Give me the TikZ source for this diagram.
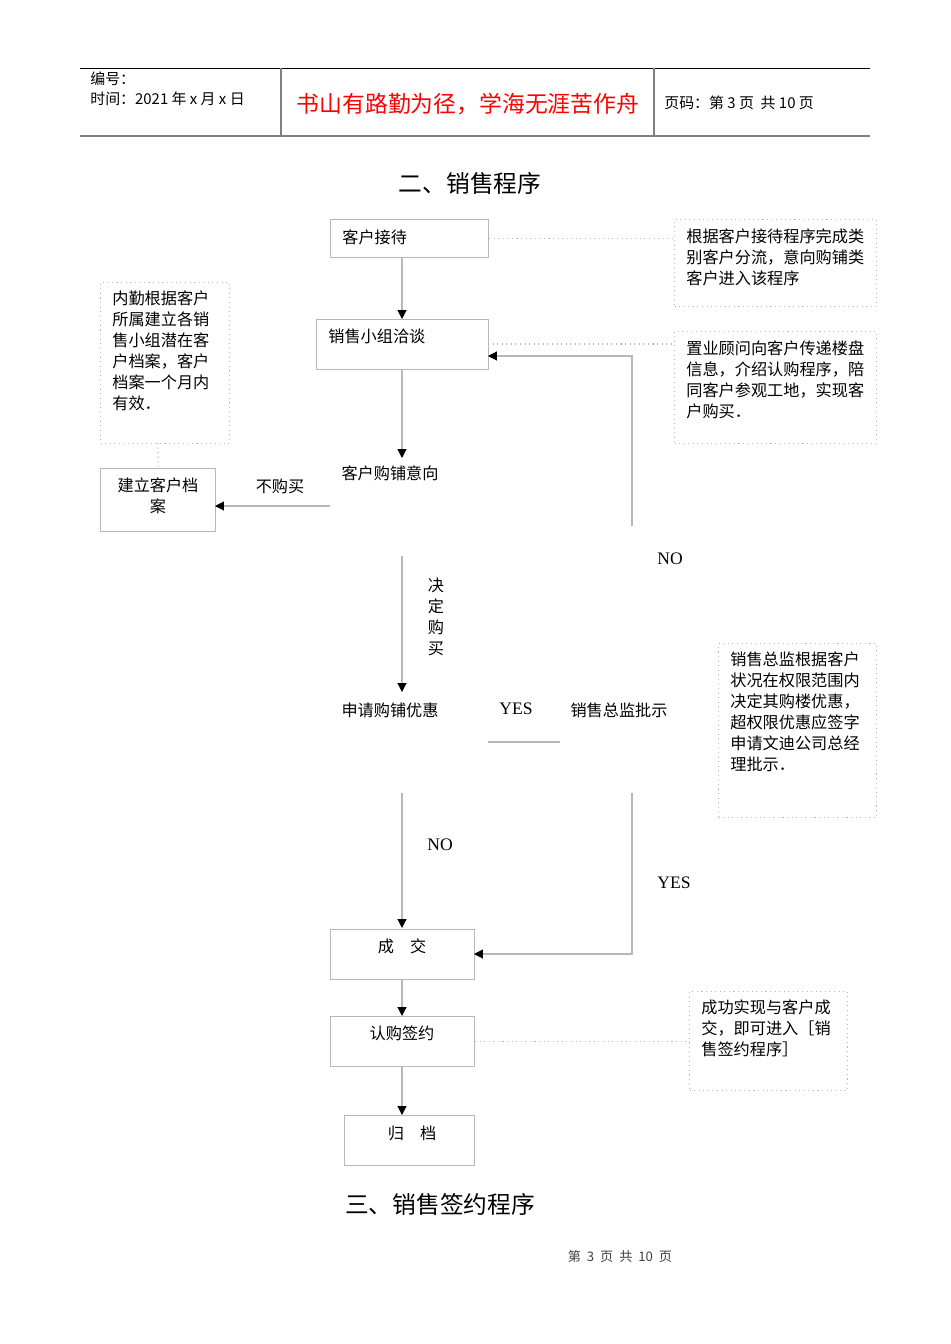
\documentclass[tikz,border=0pt]{standalone}
\usepackage{fontspec}
\setmainfont{Liberation Serif}
\newfontfamily\cjk{Noto Sans CJK SC}
\usetikzlibrary{arrows.meta}
\definecolor{linegrey}{gray}{0.72}
\tikzset{
  stepbox/.style={draw=linegrey, line width=0.6pt, anchor=north west, inner sep=0pt},
  note/.style={draw=linegrey, dotted, line width=0.6pt, anchor=north west, inner sep=0pt},
  txt/.style={font=\cjk\fontsize{9.2pt}{12pt}\selectfont, inner sep=0pt, align=left},
  aro/.style={draw=linegrey, line width=0.6pt, -{Triangle[black,length=5pt,width=5pt]}},
  lin/.style={draw=linegrey, line width=0.6pt},
  dot/.style={draw=linegrey, dotted, line width=0.6pt}
}
\begin{document}
\begin{tikzpicture}[x=0.02cm, y=-0.02cm]
  \useasboundingbox (0,0) rectangle (950,1344);

  % header
  \draw[line width=0.5pt] (80,68) -- (870,68);
  \draw[gray, line width=1.4pt] (80,136) -- (870,136);
  \draw[gray, line width=0.8pt] (281,68) -- (281,136) (654,68) -- (654,136);
  \node[txt, anchor=north west, font=\cjk\fontsize{8.5pt}{11pt}\selectfont] (hdl) at (90,72) {编号：\\时间：2021 年 x 月 x 日};
  \node[txt, red, font=\cjk\fontsize{13pt}{16pt}\selectfont] (hdm) at (468,104) {书山有路勤为径，学海无涯苦作舟};
  \node[txt, anchor=west, font=\cjk\fontsize{8.5pt}{11pt}\selectfont] (hdr) at (664,103) {页码：第 3 页\ \ 共 10 页};

  \node[txt, font=\cjk\fontsize{13.5pt}{16pt}\selectfont] (title) at (470,183) {二、销售程序};

  % boxes
  \node[stepbox, minimum width=158*0.02cm, minimum height=38*0.02cm] (recv) at (330,219) {};
  \node[txt, anchor=west] at (342,237) {客户接待};
  \node[stepbox, minimum width=172*0.02cm, minimum height=50*0.02cm] (talk) at (316,319) {};
  \node[txt, anchor=west] at (328,336) {销售小组洽谈};
  \node[txt] (intent) at (390,473) {客户购铺意向};
  \node[stepbox, minimum width=115*0.02cm, minimum height=63*0.02cm] (file) at (100,468) {};
  \node[txt, align=center] at (158,496) {建立客户档\\案};
  \node[txt] (apply) at (390,710) {申请购铺优惠};
  \node[txt] (boss) at (619,710) {销售总监批示};
  \node[stepbox, minimum width=144*0.02cm, minimum height=50*0.02cm] (deal) at (330,929) {};
  \node[txt] at (402,946) {成\quad 交};
  \node[stepbox, minimum width=144*0.02cm, minimum height=50*0.02cm] (sign) at (330,1016) {};
  \node[txt] at (402,1033) {认购签约};
  \node[stepbox, minimum width=130*0.02cm, minimum height=50*0.02cm] (arch) at (344,1115) {};
  \node[txt] at (412,1133) {归\quad 档};

  % notes
  \node[note, minimum width=202*0.02cm, minimum height=87*0.02cm] (n1) at (674,219) {};
  \node[txt, anchor=north west] at (686,228) {根据客户接待程序完成类\\别客户分流，意向购铺类\\客户进入该程序};
  \node[note, minimum width=202*0.02cm, minimum height=112*0.02cm] (n2) at (674,331) {};
  \node[txt, anchor=north west] at (686,340) {置业顾问向客户传递楼盘\\信息，介绍认购程序，陪\\同客户参观工地，实现客\\户购买．};
  \node[note, minimum width=129*0.02cm, minimum height=161*0.02cm] (n0) at (100,282) {};
  \node[txt, anchor=north west] at (112,290) {内勤根据客户\\所属建立各销\\售小组潜在客\\户档案，客户\\档案一个月内\\有效．};
  \node[note, minimum width=158*0.02cm, minimum height=174*0.02cm] (n3) at (718,643) {};
  \node[txt, anchor=north west] at (730,651) {销售总监根据客户\\状况在权限范围内\\决定其购楼优惠，\\超权限优惠应签字\\申请文迪公司总经\\理批示．};
  \node[note, minimum width=158*0.02cm, minimum height=99*0.02cm] (n4) at (689,991) {};
  \node[txt, anchor=north west] at (701,999) {成功实现与客户成\\交，即可进入［销\\售签约程序］};

  % dotted links
  \draw[dot] (recv.east) -- (n1.west |- recv.east);
  \draw[dot] (488,344) -- (674,344);
  \draw[dot] (158,443) -- (file.north);
  \draw[dot] (sign.east) -- (n4.west |- sign.east);

  % flow
  \draw[aro] (recv.south -| 402,0) -- (402,319);
  \draw[aro] (402,369) -- (402,458);
  \draw[aro] (330,506) -- (215,506);
  \node[txt] at (280,486) {不购买};
  \draw[aro] (402,556) -- (402,692);
  \node[txt, align=center] at (436,617) {决\\定\\购\\买};
  \node[font=\fontsize{10pt}{12pt}\selectfont] at (516,709) {YES};
  \draw[lin] (488,742) -- (560,742);
  \draw[aro] (632,526) -- (632,356) -- (488,356);
  \node[font=\fontsize{10pt}{12pt}\selectfont] at (670,559) {NO};
  \draw[aro] (402,793) -- (402,928);
  \node[font=\fontsize{10pt}{12pt}\selectfont] at (440,845) {NO};
  \draw[aro] (632,793) -- (632,954) -- (474,954);
  \node[font=\fontsize{10pt}{12pt}\selectfont] at (674,883) {YES};
  \draw[aro] (402,979) -- (402,1016);
  \draw[aro] (402,1066) -- (402,1115);

  \node[txt, font=\cjk\fontsize{13.5pt}{16pt}\selectfont] (title2) at (440,1204) {三、销售签约程序};
  \node[font=\cjk\fontsize{7.5pt}{9pt}\selectfont, text=darkgray] (foot) at (620,1256) {第\ \ 3\ \ 页\ \ 共\ \ 10\ \ 页};
\end{tikzpicture}
\end{document}
